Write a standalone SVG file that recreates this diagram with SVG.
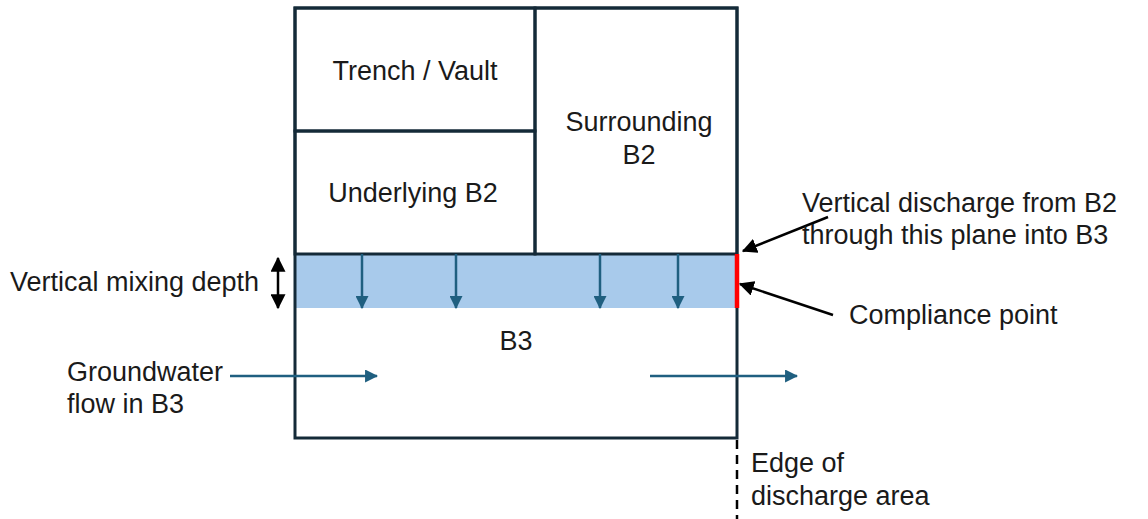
<svg xmlns="http://www.w3.org/2000/svg" width="1148" height="519" viewBox="0 0 1148 519">
<style>
  .lbl { font-family: "Liberation Sans", Arial, sans-serif; font-size: 27px; fill: #1a1a1a; }
  .mid { text-anchor: middle; }
  .box { fill: none; stroke: #142a38; stroke-width: 3; }
  .flow { stroke: #1f5f80; stroke-width: 2.5; fill: none; }
  .blk { stroke: #000; stroke-width: 2.5; fill: none; }
</style>
<defs>
  <marker id="hb" viewBox="0 0 12 12" refX="11" refY="6" markerWidth="13" markerHeight="13" markerUnits="userSpaceOnUse" orient="auto">
    <path d="M0,0 L12,6 L0,12 Z" fill="#1f5f80"/>
  </marker>
  <marker id="hk" viewBox="0 0 12 12" refX="11" refY="6" markerWidth="15" markerHeight="15" markerUnits="userSpaceOnUse" orient="auto">
    <path d="M0,0 L12,6 L0,12 Z" fill="#000"/>
  </marker>
  <marker id="hks" viewBox="0 0 12 12" refX="1" refY="6" markerWidth="15" markerHeight="15" markerUnits="userSpaceOnUse" orient="auto">
    <path d="M12,0 L0,6 L12,12 Z" fill="#000"/>
  </marker>
</defs>

<g id="mixing-band">
  <rect x="295" y="254" width="442" height="54" fill="#a8caeb"/>
</g>

<g id="outer-box">
  <rect class="box" x="295" y="8" width="442" height="430"/>
</g>

<g id="trench-vault">
  <rect class="box" x="295" y="8" width="240" height="123"/>
  <text class="lbl mid" x="415" y="80">Trench / Vault</text>
</g>

<g id="underlying-b2">
  <rect class="box" x="295" y="131" width="240" height="123"/>
  <text class="lbl mid" x="413" y="202">Underlying B2</text>
</g>

<g id="surrounding-b2">
  <rect class="box" x="535" y="8" width="202" height="246"/>
  <text class="lbl mid" x="639" y="131">Surrounding</text>
  <text class="lbl mid" x="639" y="164">B2</text>
</g>

<g id="b3">
  <text class="lbl mid" x="516" y="350">B3</text>
</g>

<g id="compliance-line">
  <line x1="737" y1="254" x2="737" y2="308" stroke="#ff0000" stroke-width="4.5"/>
</g>

<g id="edge-line">
  <line x1="737" y1="440" x2="737" y2="519" stroke="#000" stroke-width="2.5" stroke-dasharray="9,6"/>
</g>

<g id="connectors">
  <line class="flow" x1="362" y1="254" x2="362" y2="308" marker-end="url(#hb)"/>
  <line class="flow" x1="456" y1="254" x2="456" y2="308" marker-end="url(#hb)"/>
  <line class="flow" x1="600" y1="254" x2="600" y2="308" marker-end="url(#hb)"/>
  <line class="flow" x1="678" y1="254" x2="678" y2="308" marker-end="url(#hb)"/>
  <line class="flow" x1="230" y1="376" x2="377" y2="376" marker-end="url(#hb)"/>
  <line class="flow" x1="650" y1="376" x2="797" y2="376" marker-end="url(#hb)"/>
  <line class="blk" x1="278" y1="258" x2="278" y2="308" marker-start="url(#hks)" marker-end="url(#hk)"/>
  <line class="blk" x1="828" y1="217" x2="743" y2="251" marker-end="url(#hk)"/>
  <line class="blk" x1="833" y1="315" x2="740" y2="284" marker-end="url(#hk)"/>
</g>

<g id="labels">
  <text class="lbl" x="10" y="291">Vertical mixing depth</text>
  <text class="lbl" x="67" y="381">Groundwater</text>
  <text class="lbl" x="67" y="413">flow in B3</text>
  <text class="lbl" x="802" y="212">Vertical discharge from B2</text>
  <text class="lbl" x="802" y="244">through this plane into B3</text>
  <text class="lbl" x="849" y="324">Compliance point</text>
  <text class="lbl" x="751" y="472">Edge of</text>
  <text class="lbl" x="751" y="505">discharge area</text>
</g>
</svg>
